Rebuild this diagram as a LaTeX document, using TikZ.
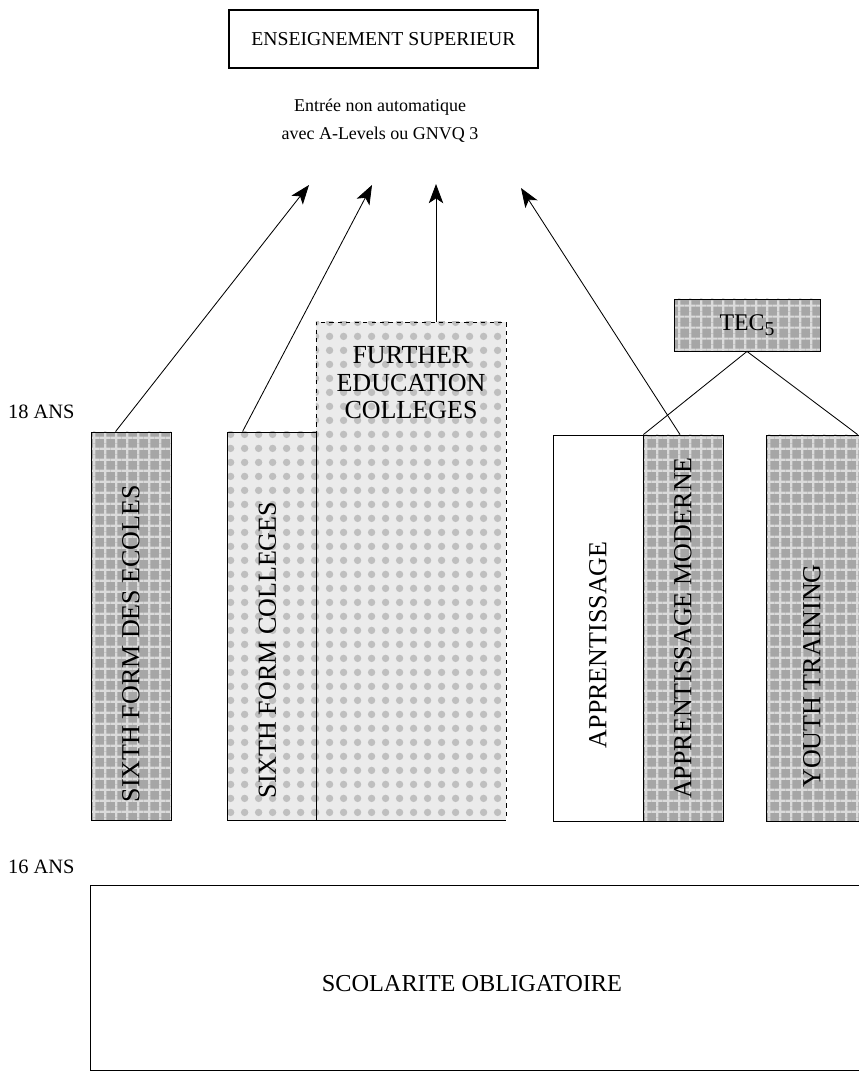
\documentclass[tikz,border=0pt]{standalone}
\usepackage{fontspec}
\setmainfont{Liberation Serif}
\usetikzlibrary{arrows.meta, calc, patterns.meta}

\tikzdeclarepattern{
  name=weave,
  type=uncolored,
  bounding box={(0pt,0pt) and (8pt,8pt)},
  tile size={(8pt,8pt)},
  code={
    \fill (0pt,3.2pt) rectangle (8pt,4.8pt);
    \fill (3.2pt,0pt) rectangle (4.8pt,8pt);
  }
}
\tikzdeclarepattern{
  name=speckle,
  type=uncolored,
  bounding box={(0pt,0pt) and (10pt,10pt)},
  tile size={(10pt,10pt)},
  code={\fill (5pt,5pt) circle (2.8pt);}
}

\tikzset{
  darkbox/.style={draw, line width=0.6pt, inner sep=0pt, preaction={fill=gray!70}, pattern=weave, pattern color=gray!28},
  lightbox/.style={draw, line width=0.6pt, inner sep=0pt, preaction={fill=gray!16}, pattern=speckle, pattern color=gray!50},
  plainbox/.style={draw, line width=0.6pt, inner sep=0pt},
  vlabel/.style={font=\fontsize{18.5}{20}\selectfont},
  agelabel/.style={anchor=west, font=\fontsize{14.5}{17}\selectfont},
}

\begin{document}
\begin{tikzpicture}[x=0.025cm, y=-0.025cm, >={Stealth[length=4.8mm, width=3.6mm, inset=1.2mm]}, line width=0.6pt]
  \useasboundingbox (0,0) rectangle (858,1086);

  % top
  \node[plainbox, line width=1.1pt, minimum width=7.725cm, minimum height=1.45cm, font=\fontsize{14}{17}\selectfont] (sup) at (383.5,39) {ENSEIGNEMENT SUPERIEUR};
  \node[align=center, font=\fontsize{12.8}{20}\selectfont] (entree) at (380,121) {Entrée non automatique\\avec A-Levels ou GNVQ 3};

  % ages
  \node[agelabel] (age18) at (3,412) {18 ANS};
  \node[agelabel] (age16) at (3,867) {16 ANS};

  % filieres
  \node[lightbox, dashed, minimum width=4.75cm, minimum height=12.45cm,
    label={[anchor=north, yshift=-0.5cm, align=center, font=\fontsize{18.5}{19.5}\selectfont]north:FURTHER\\EDUCATION\\COLLEGES}] (fec) at (411,571) {};
  \draw (fec.south west) -- (fec.south east);
  \node[darkbox, minimum width=2cm, minimum height=9.7cm,
    label={[vlabel, yshift=-0.44cm]center:\rotatebox{90}{SIXTH FORM DES ECOLES}}] (ecoles) at (131,626) {};
  \node[lightbox, minimum width=2.225cm, minimum height=9.7cm,
    label={[vlabel, xshift=-0.1cm, yshift=-0.6cm]center:\rotatebox{90}{SIXTH FORM COLLEGES}}] (sfc) at (271.5,626) {};
  \node[plainbox, minimum width=2.25cm, minimum height=9.65cm,
    label={[vlabel, yshift=-0.42cm]center:\rotatebox{90}{APPRENTISSAGE}}] (appr) at (598,628) {};
  \node[darkbox, minimum width=2cm, minimum height=9.65cm,
    label={[vlabel]center:\rotatebox{90}{APPRENTISSAGE MODERNE}}] (apmod) at (683,628) {};
  \node[darkbox, minimum width=2.6cm, minimum height=9.65cm,
    label={[vlabel, xshift=-0.15cm, yshift=-1.2cm]center:\rotatebox{90}{YOUTH TRAINING}}] (yt) at (818,628) {};

  \node[darkbox, minimum width=3.65cm, minimum height=1.3cm, font=\fontsize{17}{18}\selectfont] (tec) at (747,325) {TEC\raisebox{-0.45ex}{\fontsize{14}{14}\selectfont 5}};

  % scolarite obligatoire
  \node[plainbox, minimum width=20.225cm, minimum height=4.625cm,
    label={[xshift=-0.59cm, yshift=-0.14cm, font=\fontsize{17.3}{19}\selectfont]center:SCOLARITE OBLIGATOIRE}] (oblig) at (495.5,977.5) {};

  % acces a l'enseignement superieur
  \coordinate (t1) at (309,185);
  \coordinate (t2) at (372,185);
  \coordinate (t3) at (436,184);
  \coordinate (t4) at (521,188);
  \draw[->] ($(ecoles.north west)+(25,0)$) -- (t1);
  \draw[->] ($(sfc.north west)+(16,0)$) -- (t2);
  \draw[->] ($(fec.north)+(25,0)$) -- (t3);
  \draw[->] ($(apmod.north)+(-3,0)$) -- (t4);

  % TEC
  \draw (tec.south) -- (appr.north east);
  \draw (tec.south) -- ($(yt.north west)+(92,0)$);
\end{tikzpicture}
\end{document}
